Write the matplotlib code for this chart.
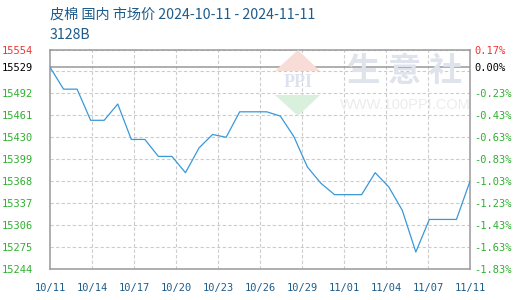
import matplotlib
matplotlib.use("Agg")
import matplotlib.pyplot as plt
from matplotlib.patches import Polygon

TITLE = "皮棉 国内 市场价 2024-10-11 - 2024-11-11"
SUBTITLE = "3128B"

# one value per calendar day, 10/11 .. 11/11
PRICES = [
    15529, 15498, 15498, 15454, 15454, 15477, 15427, 15427,
    15403, 15403, 15380, 15415, 15434, 15430, 15466, 15466,
    15466, 15460, 15431, 15388, 15365, 15349, 15349, 15349,
    15380, 15360, 15327, 15268, 15314, 15314, 15314, 15368,
]

BASE = 15529
Y_MIN, Y_MAX = 15244, 15554
Y_GRID = [15244, 15275, 15306, 15337, 15368, 15399, 15430, 15461, 15492, 15523, 15554]
LEFT_LABELS = ["15244", "15275", "15306", "15337", "15368", "15399", "15430",
               "15461", "15492", "", "15554"]
RIGHT_LABELS = ["-1.83%", "-1.63%", "-1.43%", "-1.23%", "-1.03%", "-0.83%",
                "-0.63%", "-0.43%", "-0.23%", "", "0.17%"]
BASE_RIGHT_LABEL = "0.00%"

X_LABELS = ["10/11", "10/14", "10/17", "10/20", "10/23", "10/26",
            "10/29", "11/01", "11/04", "11/07", "11/11"]

GREEN = "#2fb02f"
RED = "#ee3333"
LINE = "#3a98d8"
FRAME = "#999999"
GRID = "#cccccc"
TEXT_BLUE = "#1d5c8a"
MONO = "DejaVu Sans Mono"


def main():
    fig = plt.figure(figsize=(5.2, 3.0), dpi=100)
    W, H = 520, 300
    ax = fig.add_axes([50 / W, 31 / H, 420 / W, 219.5 / H])

    # watermark
    wm = dict(transform=fig.transFigure, zorder=0)
    fig.patches.append(Polygon([(275 / W, 1 - 71 / H), (320 / W, 1 - 71 / H), (298 / W, 1 - 50 / H)],
                               closed=True, facecolor="#f8dcd8", edgecolor="none", **wm))
    fig.patches.append(Polygon([(275 / W, 1 - 95 / H), (320 / W, 1 - 95 / H), (298 / W, 1 - 116 / H)],
                               closed=True, facecolor="#d9f0dc", edgecolor="none", **wm))
    fig.text(298 / W, 1 - 83 / H, "PPI", ha="center", va="center", fontsize=13,
             family="Liberation Serif", weight="bold", color="#dde3ee", zorder=0)
    fig.text(405 / W, 1 - 72 / H, "生 意 社", ha="center", va="center", fontsize=24,
             family=["Noto Sans CJK SC", "DejaVu Sans"], weight="bold", color="#dfe4ec", zorder=0)
    fig.text(405 / W, 1 - 105 / H, "WWW.100PPI.COM", ha="center", va="center", fontsize=10.5,
             family="Liberation Sans", color="#ececec", zorder=0)
    ax.set_facecolor("none")

    x = list(range(len(PRICES)))
    n = len(PRICES) - 1
    x_ticks = [n * i / (len(X_LABELS) - 1) for i in range(len(X_LABELS))]

    for v in Y_GRID:
        ax.axhline(v, color=GRID, lw=0.8, ls=(0, (3, 2)), zorder=1)
    for t in x_ticks[1:-1]:
        ax.axvline(t, color=GRID, lw=0.8, ls=(0, (3, 2)), zorder=1)
    ax.axhline(BASE, color=FRAME, lw=1.1, zorder=2)

    ax.plot(x, PRICES, color=LINE, lw=0.9, zorder=3)

    ax.set_xlim(0, n)
    ax.set_ylim(Y_MIN, Y_MAX)
    for s in ax.spines.values():
        s.set_color(FRAME)
        s.set_linewidth(1.1)

    ax.set_xticks(x_ticks)
    ax.set_xticklabels(X_LABELS, family=MONO, fontsize=7.5, color=TEXT_BLUE)
    ax.tick_params(axis="x", length=0, pad=10)

    ax.set_yticks(Y_GRID)
    ax.set_yticklabels(LEFT_LABELS, family=MONO, fontsize=7.5)
    ax.set_yticks([BASE], minor=True)
    ax.set_yticklabels([str(BASE)], minor=True, family=MONO, fontsize=7.5, color="black")
    ax.tick_params(axis="y", which="both", length=0, pad=12)
    for lab in ax.get_yticklabels():
        lab.set_color(GREEN)
    ax.get_yticklabels()[-1].set_color(RED)

    ax2 = ax.twinx()
    ax2.set_ylim(Y_MIN, Y_MAX)
    ax2.set_yticks(Y_GRID)
    ax2.set_yticklabels(RIGHT_LABELS, family=MONO, fontsize=7.5)
    ax2.set_yticks([BASE], minor=True)
    ax2.set_yticklabels([BASE_RIGHT_LABEL], minor=True, family=MONO, fontsize=7.5, color="black")
    ax2.tick_params(axis="y", which="both", length=0, pad=3)
    for lab in ax2.get_yticklabels():
        lab.set_color(GREEN)
    ax2.get_yticklabels()[-1].set_color(RED)
    for s in ax2.spines.values():
        s.set_visible(False)

    cjk = ["Noto Sans CJK SC", "DejaVu Sans"]
    fig.text(50 / W, 1 - 15 / H, TITLE, ha="left", va="center", fontsize=10.2,
             family=cjk, color=TEXT_BLUE)
    fig.text(50 / W, 1 - 35 / H, SUBTITLE, ha="left", va="center", fontsize=10.2,
             family=cjk, color=TEXT_BLUE)

    fig.savefig("out.png", dpi=100)
    plt.close(fig)


if __name__ == "__main__":
    main()
